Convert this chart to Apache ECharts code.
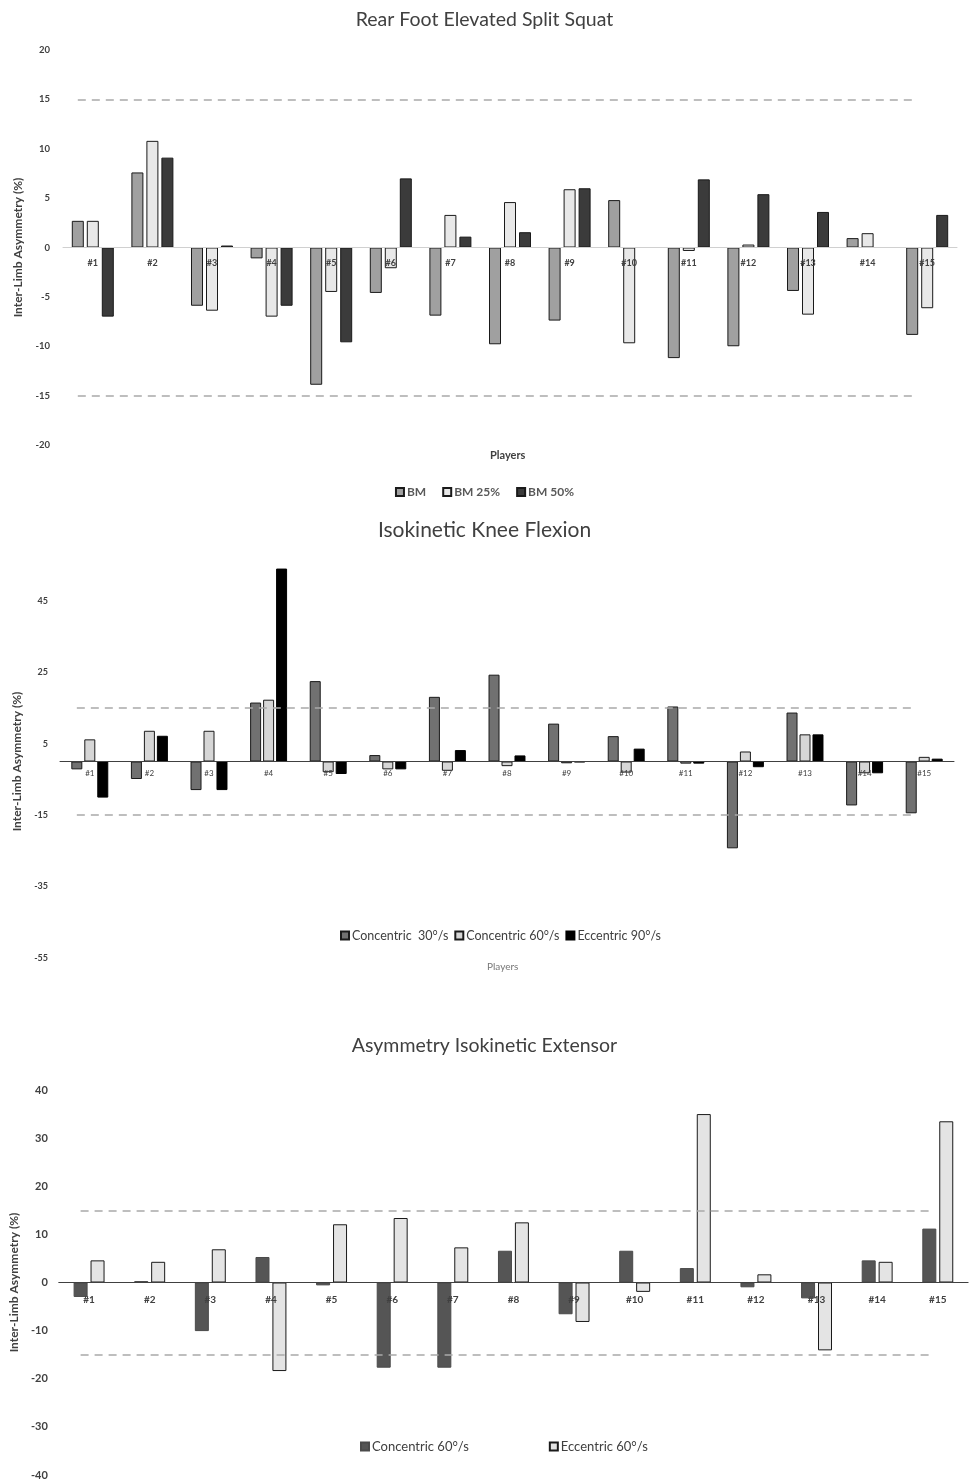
<!DOCTYPE html>
<html><head><meta charset="utf-8">
<script src="https://cdn.jsdelivr.net/npm/echarts@6/dist/echarts.min.js"></script>
<style>
html,body{margin:0;padding:0;background:#fff;}
.c{position:absolute;left:0;width:969px;}
</style>
</head><body>
<div id="c1" class="c" style="top:0;height:505px"></div>
<div id="c2" class="c" style="top:505px;height:500px"></div>
<div id="c3" class="c" style="top:1005px;height:476px"></div>
<script>
// ---------- data ----------
const players = ['#1','#2','#3','#4','#5','#6','#7','#8','#9','#10','#11','#12','#13','#14','#15'];

// Rear Foot Elevated Split Squat
const rfessBM   = [2.7, 7.6, -5.9, -1.1, -13.9, -4.6, -6.9, -9.8, -7.4, 4.8, -11.2, -10.0, -4.4, 0.95, -8.85];
const rfessBM25 = [2.7, 10.8, -6.4, -7.0, -4.5, -2.1, 3.3, 4.6, 5.9, -9.7, -0.35, 0.3, -6.8, 1.45, -6.15];
const rfessBM50 = [-7.0, 9.1, 0.2, -5.9, -9.6, 7.0, 1.1, 1.55, 6.0, 0, 6.9, 5.4, 3.6, 0, 3.3];
const rfessTicks = {min: -20, max: 20, interval: 5};

// Isokinetic Knee Flexion
const flexCon30 = [-2.2, -4.9, -8.0, 16.5, 22.5, 1.8, 18.1, 24.3, 10.6, 7.1, 15.4, -24.3, 13.7, -12.3, -14.5];
const flexCon60 = [6.2, 8.6, 8.6, 17.3, -3.0, -2.2, -2.6, -1.3, -0.5, -3.1, -0.6, 2.8, 7.6, -3.3, 1.3];
const flexEcc90 = [-10.1, 7.2, -8.0, 54, -3.5, -2.2, 3.2, 1.7, -0.2, 3.6, -0.6, -1.6, 7.6, -3.3, 0.8];
const flexTicks = {min: -55, max: 55, interval: 20};

// Asymmetry Isokinetic Extensor
const extCon60 = [-3.0, 0.3, -10.1, 5.3, -0.6, -17.7, -17.7, 6.6, -6.6, 6.6, 3.0, -1.0, -3.3, 4.6, 11.2];
const extEcc60 = [4.6, 4.3, 6.9, -18.4, 12.1, 13.4, 7.3, 12.5, -8.2, -1.95, 35.0, 1.7, -14.1, 4.3, 33.5];
const extTicks = {min: -40, max: 40, interval: 10};

const thresholds = [15, -15];

// ---------- helpers ----------
const FONT = 'Lato, "Open Sans", sans-serif';
function thresholdMarkLine(){
  return {
    silent: true, symbol: ['none','none'], label: {show: false},
    lineStyle: {color: '#a9a9a9', width: 1.5, type: [8, 6]},
    data: thresholds.map(v => [{coord: [players[0], v]}, {coord: [players[players.length-1], v]}])
  };
}
function barSeries(name, data, color, border, width, gap, withMark){
  const s = {
    name, type: 'bar', data, barWidth: width, barGap: gap,
    itemStyle: {color, borderColor: border, borderWidth: 1},
    emphasis: {disabled: true}
  };
  if (withMark) s.markLine = thresholdMarkLine();
  return s;
}
function title(text, top, size){
  return {text, left: 'center', top, textStyle: {fontFamily: FONT, fontSize: size, fontWeight: 'normal', color: '#404040'}};
}
// x axis drawn through the zero value: offset from grid bottom to the zero position
function zeroOffset(gridHeight, ticks){
  return -gridHeight * (0 - ticks.min) / (ticks.max - ticks.min);
}

// ---------- chart 1 ----------
const g1 = {left: 63, top: 50, width: 894, height: 395};
const ch1 = echarts.init(document.getElementById('c1'), null, {renderer: 'canvas'});
ch1.setOption({
  animation: false,
  title: title('Rear Foot Elevated Split Squat', 5, 19.5),
  grid: g1,
  legend: {
    top: 481, left: 'center', itemWidth: 8, itemHeight: 8, itemGap: 16, icon: 'rect',
    textStyle: {fontFamily: FONT, fontSize: 12, fontWeight: 'bold', color: '#595959', padding: [0,0,0,-2]},
    data: ['BM','BM 25%','BM 50%']
  },
  xAxis: {
    type: 'category', data: players, z: 5, position: 'bottom', offset: zeroOffset(g1.height, rfessTicks),
    axisLine: {onZero: false, lineStyle: {color: '#d0d0d0', width: 1}},
    axisTick: {show: false},
    axisLabel: {interval: 0, margin: 11, fontFamily: FONT, fontSize: 9, fontWeight: 'bold', color: '#404040'}
  },
  yAxis: {
    type: 'value', min: rfessTicks.min, max: rfessTicks.max, interval: rfessTicks.interval,
    name: 'Inter-Limb Asymmetry (%)', nameLocation: 'middle', nameGap: 35,
    nameTextStyle: {fontFamily: FONT, fontSize: 12, fontWeight: 'bold', color: '#404040'},
    splitLine: {show: false}, axisLine: {show: false}, axisTick: {show: false},
    axisLabel: {margin: 13, fontFamily: FONT, fontSize: 9.5, fontWeight: 'bold', color: '#404040'}
  },
  graphic: [{type: 'text', left: 490, top: 450, style: {text: 'Players', fontFamily: FONT, fontSize: 11, fontWeight: 'bold', fill: '#404040'}}],
  series: [
    barSeries('BM', rfessBM, '#a0a0a0', '#1a1a1a', 12, '25%', true),
    barSeries('BM 25%', rfessBM25, '#e8e8e8', '#1a1a1a', 12, '25%', false),
    barSeries('BM 50%', rfessBM50, '#3b3b3b', '#1a1a1a', 12, '25%', false)
  ]
});

// ---------- chart 2 ----------
const g2 = {left: 60, top: 60, width: 894, height: 393};
const ch2 = echarts.init(document.getElementById('c2'), null, {renderer: 'canvas'});
ch2.setOption({
  animation: false,
  title: title('Isokinetic Knee Flexion', 10, 21),
  grid: g2,
  legend: {
    top: 419, left: 335, itemWidth: 8, itemHeight: 8, itemGap: 6, icon: 'rect',
    textStyle: {fontFamily: FONT, fontSize: 12.5, color: '#404040', padding: [0,0,0,-2]},
    data: ['Concentric  30°/s','Concentric 60°/s','Eccentric 90°/s']
  },
  xAxis: {
    type: 'category', data: players, z: 5, position: 'bottom', offset: zeroOffset(g2.height, flexTicks),
    axisLine: {onZero: false, lineStyle: {color: '#404040', width: 1}},
    axisTick: {show: false},
    axisLabel: {interval: 0, margin: 8, fontFamily: FONT, fontSize: 8, color: '#404040'}
  },
  yAxis: {
    type: 'value', min: flexTicks.min, max: flexTicks.max, interval: flexTicks.interval,
    name: 'Inter-Limb Asymmetry (%)', nameLocation: 'middle', nameGap: 31,
    nameTextStyle: {fontFamily: FONT, fontSize: 12, fontWeight: 'bold', color: '#404040'},
    splitLine: {show: false}, axisLine: {show: false}, axisTick: {show: false},
    axisLabel: {margin: 12, showMaxLabel: false, fontFamily: FONT, fontSize: 9, fontWeight: 'bold', color: '#404040'}
  },
  graphic: [{type: 'text', left: 487, top: 457, style: {text: 'Players', fontFamily: FONT, fontSize: 10, fill: '#777777'}}],
  series: [
    barSeries('Concentric  30°/s', flexCon30, '#717171', '#1a1a1a', 11, '18%', true),
    barSeries('Concentric 60°/s', flexCon60, '#d6d6d6', '#1a1a1a', 11, '18%', false),
    barSeries('Eccentric 90°/s', flexEcc90, '#000000', '#000000', 11, '18%', false)
  ]
});

// ---------- chart 3 ----------
const g3 = {left: 57.6, top: 85, width: 910.5, height: 385};
const ch3 = echarts.init(document.getElementById('c3'), null, {renderer: 'canvas'});
ch3.setOption({
  animation: false,
  title: title('Asymmetry Isokinetic Extensor', 26, 19.5),
  grid: g3,
  legend: {
    top: 430, left: 355, itemWidth: 8, itemHeight: 8, itemGap: 80, icon: 'rect',
    textStyle: {fontFamily: FONT, fontSize: 13, color: '#404040', padding: [0,0,0,-2]},
    data: ['Concentric 60°/s','Eccentric 60°/s']
  },
  xAxis: {
    type: 'category', data: players, z: 5, position: 'bottom', offset: zeroOffset(g3.height, extTicks),
    axisLine: {onZero: false, lineStyle: {color: '#404040', width: 1}},
    axisTick: {show: false},
    axisLabel: {interval: 0, margin: 12, fontFamily: FONT, fontSize: 10, fontWeight: 'bold', color: '#404040'}
  },
  yAxis: {
    type: 'value', min: extTicks.min, max: extTicks.max, interval: extTicks.interval,
    name: 'Inter-Limb Asymmetry (%)', nameLocation: 'middle', nameGap: 35,
    nameTextStyle: {fontFamily: FONT, fontSize: 12, fontWeight: 'bold', color: '#404040'},
    splitLine: {show: false}, axisLine: {show: false}, axisTick: {show: false},
    axisLabel: {margin: 11, fontFamily: FONT, fontSize: 11, fontWeight: 'bold', color: '#404040'}
  },
  series: [
    barSeries('Concentric 60°/s', extCon60, '#555555', '#4a4a4a', 14, '21%', true),
    barSeries('Eccentric 60°/s', extEcc60, '#e4e4e4', '#1a1a1a', 14, '21%', false)
  ]
});
</script>
</body></html>
